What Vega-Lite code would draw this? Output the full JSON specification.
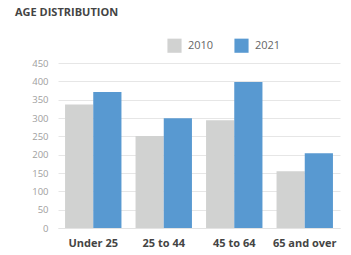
{
  "$schema": "https://vega.github.io/schema/vega-lite/v6.json",
  "autosize": "none",
  "width": 282,
  "height": 165,
  "padding": {"left": 58, "top": 63, "right": 11, "bottom": 27},
  "background": "white",
  "title": {"text": "AGE DISTRIBUTION", "anchor": "start", "frame": "group", "dx": -43, "offset": 20, "font": "Open Sans", "fontSize": 11, "fontWeight": "bold", "color": "#444444"},
  "data": {"values": [
    {"group": "Under 25", "year": "2010", "value": 337},
    {"group": "Under 25", "year": "2021", "value": 371},
    {"group": "25 to 44", "year": "2010", "value": 251},
    {"group": "25 to 44", "year": "2021", "value": 299},
    {"group": "45 to 64", "year": "2010", "value": 294},
    {"group": "45 to 64", "year": "2021", "value": 398},
    {"group": "65 and over", "year": "2010", "value": 155},
    {"group": "65 and over", "year": "2021", "value": 204}
  ]},
  "mark": {"type": "bar"},
  "encoding": {
    "x": {"field": "group", "type": "nominal", "sort": null, "scale": {"paddingInner": 0.2, "paddingOuter": 0.1},
      "axis": {"title": null, "labelAngle": 0, "ticks": false, "domain": true, "domainColor": "#e3e3e3", "labelFont": "Open Sans", "labelFontSize": 11, "labelFontWeight": "bold", "labelColor": "#444444", "labelPadding": 9}},
    "xOffset": {"field": "year", "type": "nominal"},
    "y": {"field": "value", "type": "quantitative", "scale": {"domain": [0, 450]},
      "axis": {"title": null, "values": [0,50,100,150,200,250,300,350,400,450], "domain": false, "ticks": false, "gridColor": "#e6e6e6", "labelFont": "Open Sans", "labelFontSize": 9.5, "labelColor": "#a0a0a0", "labelPadding": 10}},
    "color": {"field": "year", "type": "nominal", "scale": {"domain": ["2010", "2021"], "range": ["#d1d2d1", "#5899d1"]},
      "legend": {"title": null, "orient": "none", "direction": "horizontal", "legendX": 109, "legendY": -25, "symbolType": "square", "symbolSize": 200, "symbolStrokeWidth": 0, "labelFont": "Open Sans", "labelFontSize": 11, "labelColor": "#666666", "columnPadding": 20, "labelOffset": 6}}
  },
  "config": {"view": {"stroke": null}}
}
